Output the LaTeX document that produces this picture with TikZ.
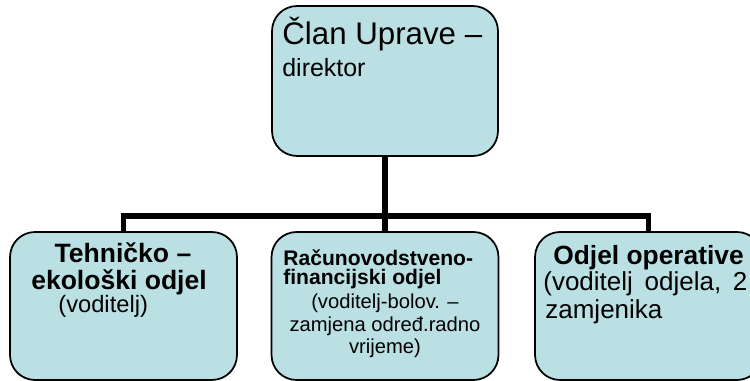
\documentclass[tikz,border=0pt]{standalone}
\usepackage{fontspec}
\setmainfont{Liberation Sans}
\usepackage{xcolor}
\usepackage{tikz}
\usetikzlibrary{positioning, calc}
\definecolor{boxfill}{RGB}{187,224,227}
\tikzset{
    unit/.style={rectangle, draw, rounded corners=0.5cm, fill=boxfill, line width=1pt, inner sep=0pt},
    headbox/.style={unit, minimum width=4.52cm, minimum height=3cm},
    deptbox/.style={unit, minimum width=4.54cm, minimum height=2.96cm},
    conn/.style={line width=3.4pt},
    txt/.style={inner sep=0pt, anchor=base west},
    ctxt/.style={inner sep=0pt, anchor=base}
}
\newcommand{\fs}[1]{\fontsize{#1}{#1}\selectfont}

\begin{document}
\begin{tikzpicture}[x=0.02cm, y=-0.02cm]
    \useasboundingbox (0,0) rectangle (750,381);
    \clip (0,0) rectangle (750,381);
    % boxes
    \node[headbox] (top) at (385,81) {};
    \node[deptbox] (lft) at (123.5,306) {};
    \node[deptbox] (mid) at (385,306) {};
    \node[deptbox] (rgt) at (648.5,306) {};
    % connectors
    \coordinate (bus) at (385,216);
    \draw[conn] (top.south) -- (mid.north);
    \draw[conn] (lft.north) |- (bus) -| (rgt.north);
    % texts
    \node[txt, font=\fs{17.8}] (topA) at (282,45) {Član Uprave –};
    \node[txt, font=\fs{14.2}] (topB) at (282,77) {direktor};
    \node[ctxt, font=\bfseries\fs{15.1}] (lftA) at (123,263) {Tehničko –};
    \node[ctxt, font=\bfseries\fs{15.1}] (lftB) at (119,290) {ekološki odjel};
    \node[txt, font=\fs{13.5}] (lftC) at (58,313) {(voditelj)};
    \node[txt, font=\bfseries\fs{12}] (midA) at (283,266) {Računovodstveno-};
    \node[txt, font=\bfseries\fs{12}] (midB) at (283,285) {financijski odjel};
    \node[ctxt, font=\fs{11.5}] (midC) at (385,309) {(voditelj-bolov. –};
    \node[ctxt, font=\fs{11.5}] (midD) at (385,332) {zamjena određ.radno};
    \node[ctxt, font=\fs{11.5}] (midE) at (385,354) {vrijeme)};
    \node[txt, font=\bfseries\fs{15}] (rgtA) at (553,265) {Odjel operative};
    \node[txt, font=\fs{14.8}] (rgtB) at (543,291) {(voditelj\hspace{0.09cm} odjela,\hspace{0.09cm} 2};
    \node[txt, font=\fs{14.8}] (rgtC) at (545,318) {zamjenika};
\end{tikzpicture}
\end{document}
